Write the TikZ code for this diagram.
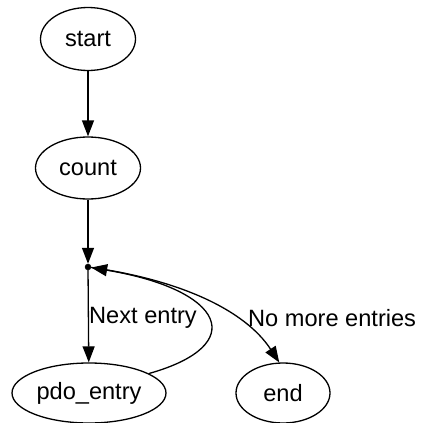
\documentclass[tikz,border=0pt]{standalone}
\usepackage{fontspec}
\setmainfont{Liberation Sans}
\usetikzlibrary{shapes.geometric,arrows.meta}

\begin{document}
\begin{tikzpicture}[x=1pt,y=-1pt,
  state/.style={draw,ellipse,line width=1.3pt,inner sep=0pt,font=\fontsize{23.6}{28}\selectfont},
  edge/.style={line width=1.3pt,-{Triangle[length=16pt,width=12pt]}},
  lbl/.style={anchor=west,inner sep=0pt,font=\fontsize{23.6}{28}\selectfont}]
\useasboundingbox (0,0) rectangle (421,423);

% states
\node[state,minimum width=95pt,minimum height=63pt] (start) at (88,39) {start};
\node[state,minimum width=105pt,minimum height=62pt] (count) at (88,168) {count};
\node[draw,circle,fill,inner sep=0pt,minimum size=6pt] (loop) at (88,267) {};
\node[state,minimum width=154pt,minimum height=60pt] (pdo) at (89,393) {pdo\_entry};
\node[state,minimum width=94pt,minimum height=60pt] (end) at (283,393) {end};

% edges
\draw[edge] (start) -- (count);
\draw[edge] (count) -- (loop);
\draw[edge] (loop) -- (pdo);
\draw[edge] (pdo.18) .. controls (250,345) and (225,290) .. (loop);
\draw[edge] (loop) .. controls (180,280) and (245,310) .. (end.97);

% labels
\node[lbl] (next) at (89,318) {Next entry};
\node[lbl] (nomore) at (248,318) {No more entries};
\end{tikzpicture}
\end{document}
